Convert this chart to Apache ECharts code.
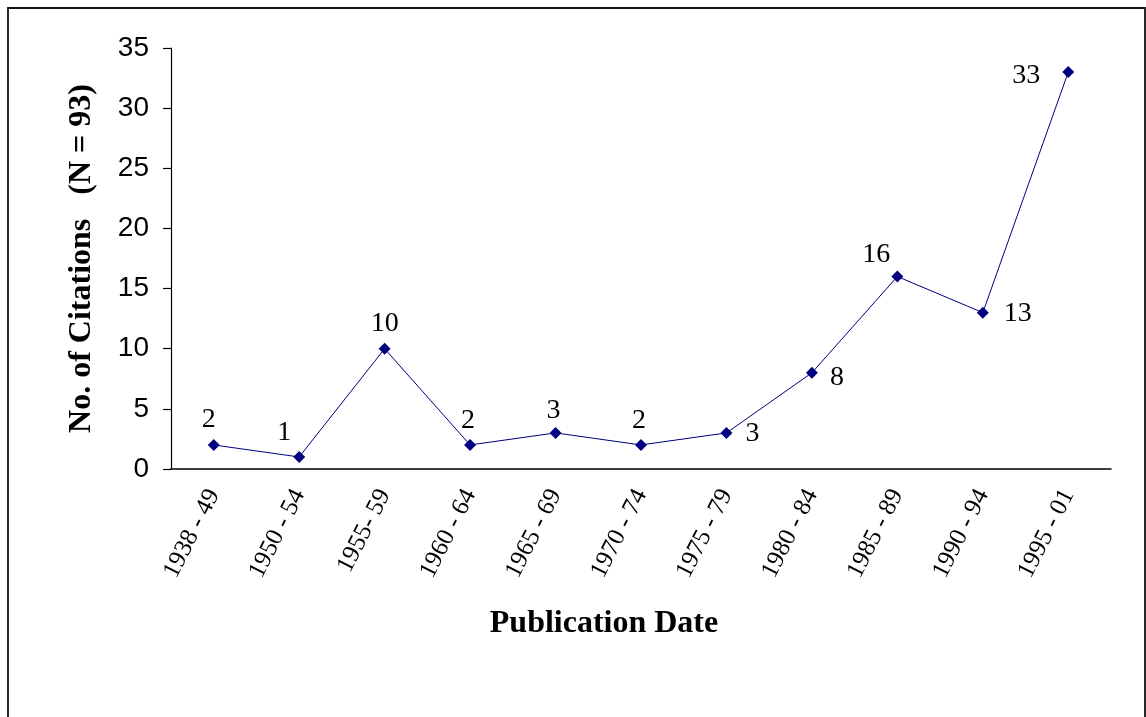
<!DOCTYPE html>
<html>
<head>
<meta charset="utf-8">
<title>Citations by Publication Date</title>
<script src="https://cdn.jsdelivr.net/npm/echarts@6/dist/echarts.min.js"></script>
<style>
  html, body { margin: 0; padding: 0; background: #fff; }
  #chart { width: 1146px; height: 717px; }
</style>
</head>
<body>
<div id="chart"></div>
<script>
// Publication periods and number of citations per period (N = 93)
const periods = ['1938 - 49', '1950 - 54', '1955- 59', '1960 - 64', '1965 - 69', '1970 - 74',
                 '1975 - 79', '1980 - 84', '1985 - 89', '1990 - 94', '1995 - 01'];
const citations = [2, 1, 10, 2, 3, 2, 3, 8, 16, 13, 33];
const yTicks = [0, 5, 10, 15, 20, 25, 30, 35];

// where each value label sits relative to its marker
const labelPlacement = [
  { position: 'top', offset: [-5, 0] },
  { position: 'top', offset: [-15, 0.5] },
  { position: 'top', offset: [0, -0.5] },
  { position: 'top', offset: [-2, 0.5] },
  { position: 'top', offset: [-2, 3] },
  { position: 'top', offset: [-2, 0.5] },
  { position: 'right', offset: [8, 1] },
  { position: 'right', offset: [7, 5] },
  { position: 'top', offset: [-21, 3.5] },
  { position: 'right', offset: [10, 1] },
  { position: 'left', offset: [-17, 4] }
];

const serif = '"Liberation Serif", "Times New Roman", Times, serif';
const sans = '"Liberation Sans", Arial, Helvetica, sans-serif';

const seriesData = citations.map((v, i) => ({
  value: v,
  label: Object.assign({ show: true }, labelPlacement[i])
}));

const chart = echarts.init(document.getElementById('chart'), null, { renderer: 'canvas' });
chart.setOption({
  backgroundColor: '#ffffff',
  animation: false,
  graphic: [{
    type: 'rect',
    shape: { x: 8, y: 8, width: 1137, height: 730 },
    style: { fill: 'none', stroke: '#111', lineWidth: 1.8 },
    silent: true,
    z: -1
  }],
  grid: { left: 171, right: 35, top: 48, bottom: 248, containLabel: false },
  xAxis: {
    type: 'category',
    data: periods,
    boundaryGap: true,
    name: 'Publication Date',
    nameLocation: 'middle',
    nameGap: 139,
    nameTextStyle: {
      fontFamily: serif, fontWeight: 'bold', fontSize: 32, color: '#000',
      padding: [0, 74, 0, 0]
    },
    axisLine: { lineStyle: { color: '#000', width: 1.5 } },
    axisTick: { show: false },
    axisLabel: {
      rotate: 63,
      margin: 22,
      fontFamily: serif,
      fontSize: 25,
      color: '#000',
      interval: 0
    },
    splitLine: { show: false }
  },
  yAxis: {
    type: 'value',
    min: yTicks[0],
    max: yTicks[yTicks.length - 1],
    interval: 5,
    name: 'No. of Citations   (N = 93)',
    nameLocation: 'middle',
    nameGap: 73,
    nameTextStyle: { fontFamily: serif, fontWeight: 'bold', fontSize: 32, color: '#000' },
    axisLine: { show: true, lineStyle: { color: '#000', width: 1.2 } },
    axisTick: { show: true, inside: false, length: 8, lineStyle: { color: '#000', width: 1.2 } },
    axisLabel: { fontFamily: sans, fontSize: 28, color: '#000', margin: 22 },
    splitLine: { show: false }
  },
  series: [{
    type: 'line',
    data: seriesData,
    symbol: 'diamond',
    symbolSize: 12,
    lineStyle: { color: '#000080', width: 1 },
    itemStyle: { color: '#000080' },
    label: { fontFamily: serif, fontSize: 28, color: '#000' }
  }]
});
</script>
</body>
</html>
